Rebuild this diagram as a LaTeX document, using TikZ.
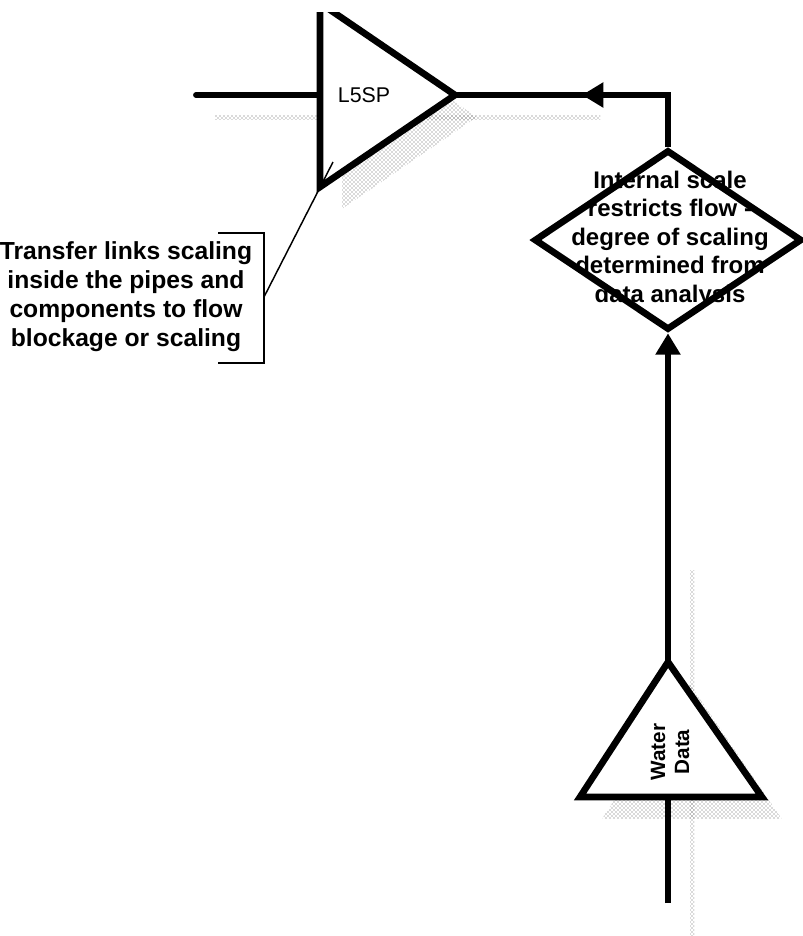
\documentclass[tikz,border=0pt]{standalone}
\usepackage{fontspec}
\setmainfont{Liberation Sans}
\usepackage{tikz}
\usetikzlibrary{shapes.geometric, arrows.meta, positioning, calc, patterns}
\definecolor{shadowgray}{RGB}{95,95,95}

\begin{document}
\begin{tikzpicture}[
    x=0.75pt, y=-0.75pt,
    unit/.style={draw, line width=5pt, fill=white},
    decision/.style={diamond, draw, line width=5pt, minimum width=201pt, minimum height=135pt, inner sep=0pt},
    boldtext/.style={align=center, inner sep=0pt, font=\bfseries\fontsize{18}{21.3}\selectfont},
    flow/.style={line width=4.4pt},
    arrow/.style={-{Triangle[length=16pt, width=18pt]}, line width=4.4pt},
    leader/.style={line width=1.1pt},
    dropshadow/.style={pattern=crosshatch dots, pattern color=shadowgray}
]
\useasboundingbox (0,0) rectangle (803,936);

\coordinate (l5top) at (320,3);
\coordinate (l5apex) at (455,95);
\coordinate (l5bot) at (320,187);
\coordinate (l5left) at (320,95);
\coordinate (l5in) at (196,95);
\coordinate (tip) at (582,95);
\coordinate (wdapex) at (668,662);
\coordinate (wdleft) at (580,797);
\coordinate (wdright) at (762,797);
\coordinate (wdbase) at (668,797);
\coordinate (wdin) at (668,903);
\coordinate (brk) at (264,297);
\coordinate (leadend) at (333,162);

\path[dropshadow] (215,115) rectangle (600,119);
\path[dropshadow] (690,570) rectangle (694,936);
\path[dropshadow] (342,25) -- (477,117) -- (342,209) -- cycle;
\path[dropshadow] (690,684) -- (602,819) -- (782,819) -- cycle;

\node[decision] (scale) at (668,240) {};
\node[boldtext] (scaletext) at (670,239) {Internal scale\\restricts flow -\\degree of scaling\\determined from\\data analysis};

\draw[flow, line cap=round] (l5in) -- (l5left);
\draw[flow] (scale.north) |- (l5apex);
\draw[arrow] (scale.north) |- (tip);
\draw[arrow] (wdapex) -- (scale.south);
\draw[flow] (wdin) -- (wdbase);

\begin{scope}
\clip (0,12) rectangle (803,300);
\draw[unit] (l5top) -- (l5apex) -- (l5bot) -- cycle;
\end{scope}
\draw[unit] (wdapex) -- (wdright) -- (wdleft) -- cycle;

\node[font=\fontsize{16}{19}\selectfont] (l5sp) at (364,95) {L5SP};
\node[boldtext, font=\bfseries\fontsize{15.5}{18}\selectfont, rotate=90] (water) at (670,752) {Water\\Data};

\node[boldtext, font=\bfseries\fontsize{18.5}{21.8}\selectfont] (note) at (126,297) {Transfer links scaling\\inside the pipes and\\components to flow\\blockage or scaling};
\draw[leader] (218,233) -| (264,363) -- (218,363);
\draw[leader] (brk) -- (leadend);

\end{tikzpicture}
\end{document}
